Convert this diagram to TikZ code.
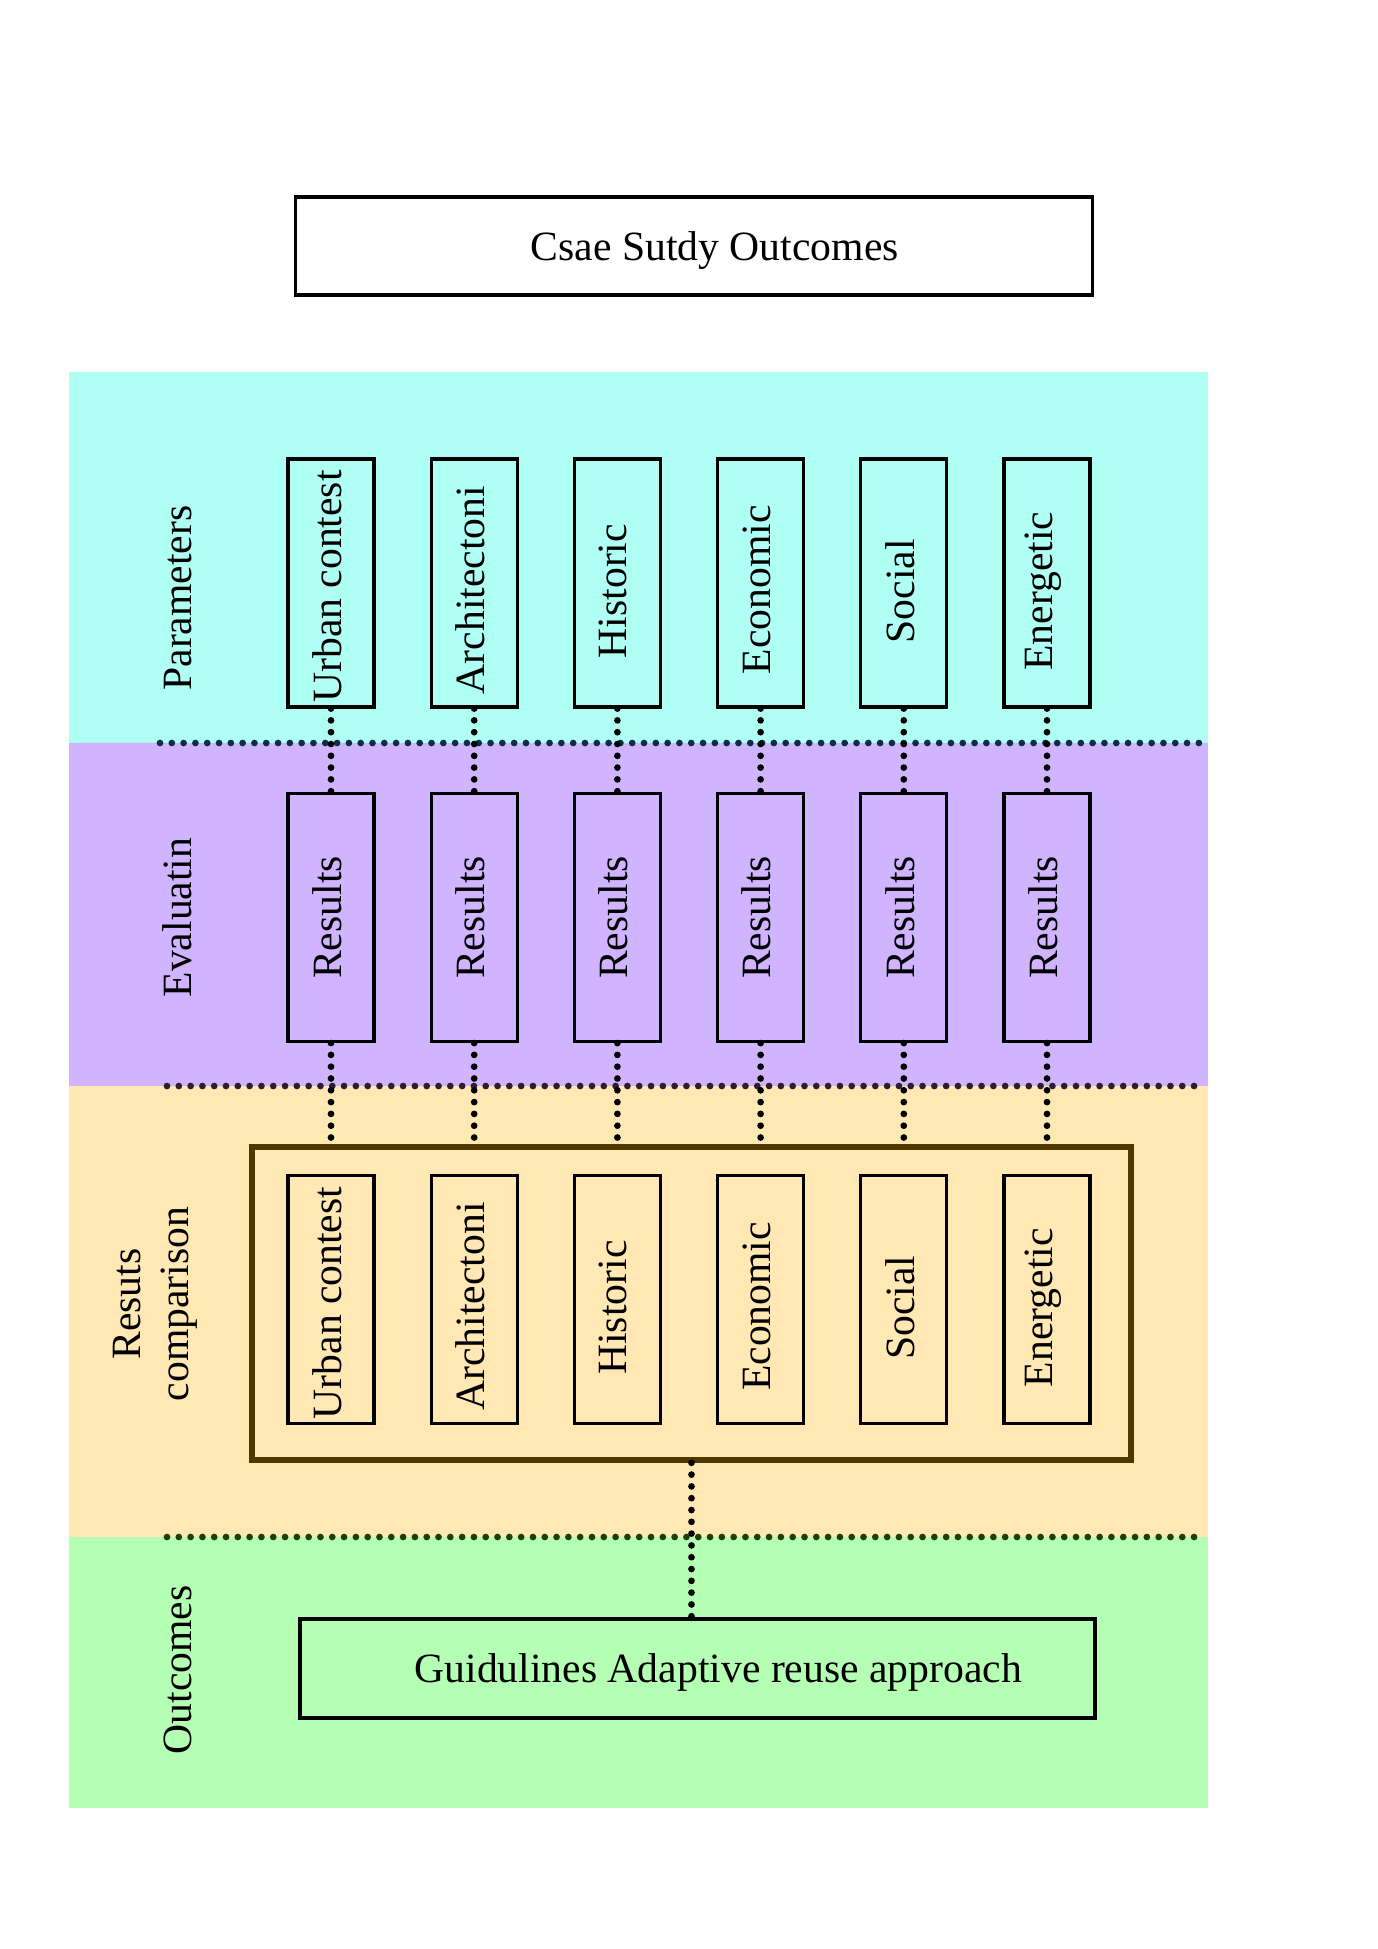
\documentclass[tikz,border=0pt]{standalone}
\usepackage{fontspec}
\setmainfont{Liberation Serif}
\usepackage{graphicx}
\definecolor{bcyan}{RGB}{175,255,245}
\definecolor{bpurple}{RGB}{208,180,255}
\definecolor{borange}{RGB}{255,232,180}
\definecolor{bgreen}{RGB}{180,255,180}
\definecolor{sepA}{RGB}{15,45,70}
\definecolor{sepB}{RGB}{45,28,50}
\definecolor{sepC}{RGB}{30,64,5}
\definecolor{cmpbrown}{RGB}{77,56,0}
\newcommand\pxl[1]{#1*0.432pt}
\newcommand\coltext[2]{\rotatebox{90}{#1\hspace*{#2}}\hspace*{3.5pt}}
\begin{document}
\begin{tikzpicture}[x=0.432pt,y=-0.432pt,
  every node/.style={font=\fontsize{18}{20.7}\selectfont, inner sep=0pt},
  plainbox/.style={draw, line width=1.35pt},
  colbox/.style={plainbox, minimum width=\pxl{86}, minimum height=\pxl{248}},
  sepline/.style={line width=2.9pt, line cap=round, dash pattern=on 0pt off 5.1pt},
  conn/.style={sepline, black},
  bandlabel/.style={rotate=90, anchor=base}]
\useasboundingbox (0,0) rectangle (1378,1949);
% bands
\fill[bcyan] (69,372) rectangle (1208,743);
\fill[bpurple] (69,743) rectangle (1208,1086);
\fill[borange] (69,1086) rectangle (1208,1537);
\fill[bgreen] (69,1537) rectangle (1208,1808);
% separators
\draw[sepline, sepA] (160,743) -- (1205,743);
\draw[sepline, sepB] (167,1086) -- (1205,1086);
\draw[sepline, sepC] (167,1537) -- (1205,1537);
% band labels
\node[bandlabel] (lpar) at (191,598) {Parameters};
\node[bandlabel] (leva) at (191,917.5) {Evaluatin};
\node[rotate=90, align=center] (lcmp) at (155,1304) {Resuts\\comparison};
\node[bandlabel] (lout) at (191,1670) {Outcomes};
% title
\node[plainbox, text depth=0pt, minimum width=\pxl{797}, minimum height=\pxl{98}] (title) at (694,246) {\hspace*{18pt}Csae Sutdy Outcomes};
% comparison frame
\node[draw=cmpbrown, line width=2.4pt, minimum width=\pxl{879}, minimum height=\pxl{313}] (cmp) at (691.5,1303.5) {};
% columns
\foreach \i/\x/\t/\s in {1/331/Urban contest/3pt, 2/474.2/Architectoni/6pt, 3/617.4/Historic/7pt, 4/760.6/Economic/6pt, 5/903.8/Social/7pt, 6/1047/Energetic/7pt}{
  \node[colbox] (p\i) at (\x,583) {\coltext{\t}{\s}};
  \node[colbox] (r\i) at (\x,917.5) {\rotatebox{90}{Results}\hspace*{3.5pt}};
  \node[colbox] (c\i) at (\x,1299.5) {\coltext{\t}{\s}};
  \draw[conn] (p\i.south) -- (r\i.north);
  \draw[conn] (r\i.south) -- (r\i.south |- cmp.north);
}
% outcome
\node[plainbox, text depth=0pt, minimum width=\pxl{795}, minimum height=\pxl{99}] (out) at (697.5,1668.5) {\hspace*{18pt}Guidulines Adaptive reuse approach};
\draw[conn] (cmp.south) -- (cmp.south |- out.north);
\end{tikzpicture}
\end{document}
